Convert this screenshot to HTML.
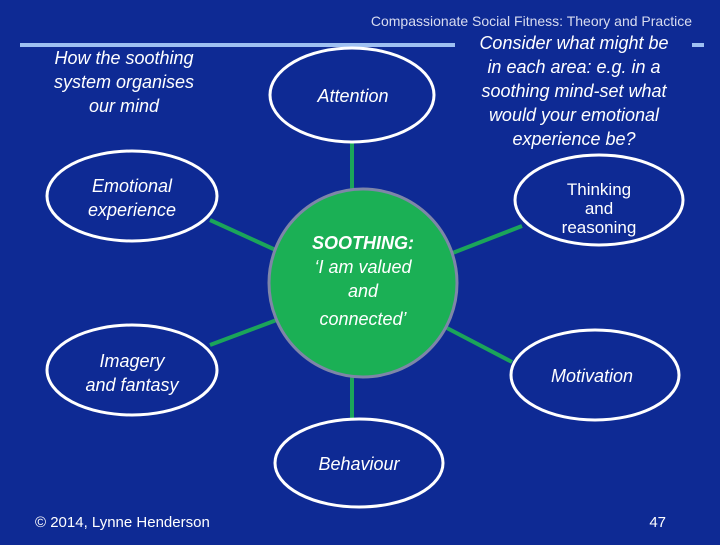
<!DOCTYPE html>
<html><head><style>
body{margin:0;width:720px;height:540px;background:#0E2A94;overflow:hidden;}
svg text{font-family:"Liberation Sans",sans-serif;}
</style></head><body>
<svg width="720" height="540" xmlns="http://www.w3.org/2000/svg">
<rect width="720" height="540" fill="#0E2A94"/>
<text x="692" y="26" fill="#D8DCF0" font-size="14" text-anchor="end">Compassionate Social Fitness: Theory and Practice</text>
<rect x="20" y="43" width="435" height="4" fill="#9EC0F2"/>
<rect x="692" y="43" width="12" height="4" fill="#9EC0F2"/>
<g stroke="#1BA55A" stroke-width="4">
<line x1="352" y1="142" x2="352" y2="192"/>
<line x1="210" y1="220" x2="280" y2="252"/>
<line x1="522" y1="226" x2="450" y2="254"/>
<line x1="210" y1="345" x2="282" y2="318"/>
<line x1="512" y1="362" x2="445" y2="327"/>
<line x1="352" y1="372" x2="352" y2="420"/>
</g>
<circle cx="363" cy="283" r="94" fill="#1BB055" stroke="#7E86A8" stroke-width="3"/>
<g fill="#0E2A94" stroke="#fff" stroke-width="3">
<ellipse cx="352" cy="95" rx="82" ry="47"/>
<ellipse cx="132" cy="196" rx="85" ry="45"/>
<ellipse cx="599" cy="200" rx="84" ry="45"/>
<ellipse cx="132" cy="370" rx="85" ry="45"/>
<ellipse cx="595" cy="375" rx="84" ry="45"/>
<ellipse cx="359" cy="463" rx="84" ry="44"/>
</g>
<g fill="#fff" font-size="18" font-style="italic" text-anchor="middle">
<text x="124" y="64">How the soothing</text>
<text x="124" y="88">system organises</text>
<text x="124" y="112">our mind</text>
<text x="353" y="102">Attention</text>
<text x="574" y="49">Consider what might be</text>
<text x="574" y="73">in each area: e.g. in a</text>
<text x="574" y="97">soothing mind-set what</text>
<text x="574" y="121">would your emotional</text>
<text x="574" y="145">experience be?</text>
<text x="132" y="192">Emotional</text>
<text x="132" y="216">experience</text>
<text x="132" y="367">Imagery</text>
<text x="132" y="391">and fantasy</text>
<text x="592" y="382">Motivation</text>
<text x="359" y="470">Behaviour</text>
<text x="363" y="249" font-weight="bold">SOOTHING:</text>
<text x="363" y="273">‘I am valued</text>
<text x="363" y="297">and</text>
<text x="363" y="325">connected’</text>
</g>
<g fill="#fff" font-size="17" text-anchor="middle">
<text x="599" y="195">Thinking</text>
<text x="599" y="214">and</text>
<text x="599" y="233">reasoning</text>
</g>
<text x="35" y="527" fill="#fff" font-size="15">© 2014, Lynne Henderson</text>
<text x="666" y="527" fill="#fff" font-size="15" text-anchor="end">47</text>
</svg>
</body></html>
